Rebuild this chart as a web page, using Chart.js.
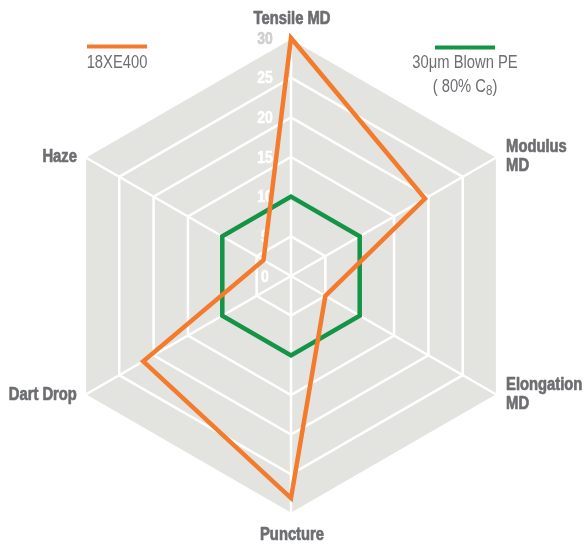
<!DOCTYPE html>
<html>
<head>
<meta charset="utf-8">
<script src="https://cdn.jsdelivr.net/npm/chart.js@4.4.0/dist/chart.umd.min.js"></script>
<style>
  html, body { margin: 0; padding: 0; background: #fff; }
  #wrap { width: 585px; height: 544px; }
</style>
</head>
<body>
<div id="wrap"><canvas id="radar" width="585" height="544"></canvas></div>
<script>
  // values
  var axisLabels = [['Tensile MD'], ['Modulus', 'MD'], ['Elongation', 'MD'], ['Puncture'], ['Dart Drop'], ['Haze']];
  var xe400Values = [30, 19.5, 5, 28, 21.5, 4];
  var blownPeValues = [10, 10, 10, 10, 10, 10];
  var tickValues = [0, 5, 10, 15, 20, 25, 30];
  var seriesNames = ['18XE400', '30μm Blown PE'];

  var FONT = '"Liberation Sans", Arial, sans-serif';
  var NARROW = 0.82; // squeeze Liberation Sans into a narrow face
  var ORANGE = '#f47b2d';
  var GREEN = '#139446';
  var TEXT_GREY = '#6d6e71';

  function narrowText(ctx, text, x, y, align, heavy) {
    ctx.save();
    ctx.translate(x, y);
    ctx.scale(NARROW, 1);
    ctx.textAlign = align;
    ctx.fillText(text, 0, 0);
    if (heavy) {
      // a thin stroke to get closer to the heavy condensed face
      ctx.strokeStyle = ctx.fillStyle;
      ctx.lineWidth = heavy;
      ctx.lineJoin = 'round';
      ctx.strokeText(text, 0, 0);
    }
    ctx.restore();
  }

  function narrowWidth(ctx, text) {
    return ctx.measureText(text).width * NARROW;
  }

  // tick labels sit left of the vertical axis, under the lines
  var tickLabels = {
    id: 'tickLabels',
    beforeDatasetsDraw: function(chart) {
      var ctx = chart.ctx;
      var scale = chart.scales.r;
      ctx.save();
      ctx.font = 'bold 17px ' + FONT;
      ctx.textBaseline = 'middle';
      scale.ticks.forEach(function(tick) {
        var y = scale.yCenter - scale.getDistanceFromCenterForValue(tick.value);
        ctx.fillStyle = tick.value === scale.max ? '#cfcfcf' : '#ffffff';
        narrowText(ctx, String(tick.value), scale.xCenter - 26, y + 1, 'center', 0.6);
      });
      ctx.restore();
    }
  };

  var overlay = {
    id: 'overlay',
    afterDraw: function(chart) {
      var ctx = chart.ctx;
      var scale = chart.scales.r;
      ctx.save();

      // axis names
      ctx.font = 'bold 18px ' + FONT;
      ctx.fillStyle = TEXT_GREY;
      ctx.textBaseline = 'alphabetic';
      axisLabels.forEach(function(lines, i) {
        var p = scale.getPointPosition(i, scale.drawingArea);
        var angle = scale.getIndexAngle(i);
        var s = Math.sin(angle), c = Math.cos(angle);
        if (Math.abs(s) < 0.01) {
          narrowText(ctx, lines[0], p.x + 1, c > 0 ? p.y - 14 : p.y + 26, 'center', 0.7);
        } else {
          var x = p.x + (s > 0 ? 9 : -8);
          var mid = p.y - 2;
          lines.forEach(function(line, k) {
            narrowText(ctx, line, x, mid + 6.5 + (k - (lines.length - 1) / 2) * 19, s > 0 ? 'left' : 'right', 0.7);
          });
        }
      });

      // legend
      ctx.fillStyle = ORANGE;
      ctx.fillRect(87, 44.5, 60, 4);
      ctx.fillStyle = GREEN;
      ctx.fillRect(435, 45.5, 60, 4);

      ctx.font = '18px ' + FONT;
      ctx.fillStyle = TEXT_GREY;
      narrowText(ctx, seriesNames[0], 117, 68, 'center');
      narrowText(ctx, seriesNames[1], 465, 68, 'center');

      var pre = '( 80% C', sub = '8', post = ')';
      var wPre = narrowWidth(ctx, pre);
      var wPost = narrowWidth(ctx, post);
      ctx.font = '14px ' + FONT;
      var wSub = narrowWidth(ctx, sub);
      var x0 = 465 - (wPre + wSub + wPost) / 2;
      ctx.font = '18px ' + FONT;
      narrowText(ctx, pre, x0, 92, 'left');
      ctx.font = '14px ' + FONT;
      narrowText(ctx, sub, x0 + wPre, 95, 'left');
      ctx.font = '18px ' + FONT;
      narrowText(ctx, post, x0 + wPre + wSub, 92, 'left');

      ctx.restore();
    }
  };

  new Chart(document.getElementById('radar'), {
    type: 'radar',
    data: {
      labels: axisLabels.map(function(l) { return l.join(' '); }),
      datasets: [
        {
          label: seriesNames[0],
          data: xe400Values,
          borderColor: ORANGE,
          borderWidth: 4.5,
          borderJoinStyle: 'miter',
          fill: false,
          pointRadius: 0
        },
        {
          label: seriesNames[1],
          data: blownPeValues,
          borderColor: GREEN,
          borderWidth: 4.5,
          borderJoinStyle: 'miter',
          fill: false,
          pointRadius: 0
        }
      ]
    },
    options: {
      responsive: false,
      animation: false,
      layout: { padding: { left: 53, right: 56, top: 38, bottom: 30 } },
      plugins: {
        legend: { display: false },
        tooltip: { enabled: false }
      },
      scales: {
        r: {
          min: tickValues[0],
          max: tickValues[tickValues.length - 1],
          backgroundColor: '#e3e3df',
          ticks: { display: false, stepSize: tickValues[1] - tickValues[0] },
          grid: { color: '#ffffff', lineWidth: 2.5 },
          angleLines: { color: '#ffffff', lineWidth: 2.5 },
          pointLabels: { display: false }
        }
      }
    },
    plugins: [tickLabels, overlay]
  });
</script>
</body>
</html>
